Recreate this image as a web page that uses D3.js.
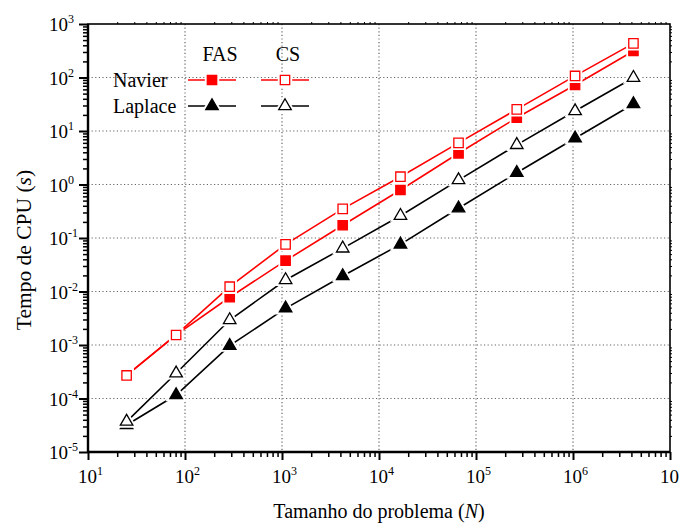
<!DOCTYPE html>
<html>
<head>
<meta charset="utf-8">
<script src="https://cdn.jsdelivr.net/npm/d3@7"></script>
<style>
  body { margin: 0; background: #fff; }
  svg text { font-family: "Liberation Serif", "Times New Roman", serif; }
</style>
</head>
<body>
<div id="chart"></div>
<script>
// problem sizes (N) and CPU times (s)
const sizes = [25, 81, 289, 1089, 4225, 16641, 66049, 263169, 1050625, 4198401]
const navierFAS = [2.7e-4, 1.54e-3, 7.8e-3, 0.0377, 0.173, 0.79, 3.83, 17.7, 72.5, 313]
const navierCS = [2.7e-4, 1.54e-3, 0.0123, 0.076, 0.35, 1.4, 6.0, 25.4, 107, 435]
const laplaceFAS = [3.2e-5, 1.16e-4, 9.7e-4, 4.85e-3, 0.0195, 0.076, 0.36, 1.66, 7.3, 32]
const laplaceCS = [3.7e-5, 2.96e-4, 2.93e-3, 0.0164, 0.064, 0.261, 1.21, 5.5, 23.6, 99]
const xDecades = [1, 2, 3, 4, 5, 6, 7]
const yDecades = [-5, -4, -3, -2, -1, 0, 1, 2, 3]

const width = 679
const height = 523
const margin = { top: 24, right: 9, bottom: 71, left: 88 }
const innerW = width - margin.left - margin.right
const innerH = height - margin.top - margin.bottom

const svg = d3.select('#chart')
  .append('svg')
  .attr('width', width)
  .attr('height', height)
  .style('font-family', '"Liberation Serif", "Times New Roman", serif')

const g = svg.append('g')
  .attr('transform', `translate(${margin.left},${margin.top})`)

const x = d3.scaleLog().domain([1e1, 1e7]).range([0, innerW])
const y = d3.scaleLog().domain([1e-5, 1e3]).range([innerH, 0])

// minor tick values
const minorTicks = (decs) => {
  const out = []
  decs.slice(0, -1).forEach(e => {
    for (let k = 2; k <= 9; k++) out.push(k * Math.pow(10, e))
  })
  return out
}
const xMinor = minorTicks(xDecades)
const yMinor = minorTicks(yDecades)
const xMajor = xDecades.map(e => Math.pow(10, e))
const yMajor = yDecades.map(e => Math.pow(10, e))

// grid
g.append('g')
  .selectAll('line')
  .data(xMajor.slice(1, -1))
  .join('line')
  .attr('x1', d => x(d)).attr('x2', d => x(d))
  .attr('y1', 0).attr('y2', innerH)
  .attr('stroke', '#666').attr('stroke-width', 1.2)
  .attr('stroke-dasharray', '1.2,2.4')

g.append('g')
  .selectAll('line')
  .data(yMajor.slice(1, -1))
  .join('line')
  .attr('x1', 0).attr('x2', innerW)
  .attr('y1', d => y(d)).attr('y2', d => y(d))
  .attr('stroke', '#666').attr('stroke-width', 1.2)
  .attr('stroke-dasharray', '1.2,2.4')

// axes (ticks only, labels drawn separately)
const styleAxis = (sel, w) => {
  sel.select('.domain').remove()
  sel.selectAll('.tick line').attr('stroke', '#000').attr('stroke-width', w)
  sel.selectAll('.tick text').remove()
}

g.append('g').attr('transform', `translate(0,${innerH})`)
  .call(d3.axisBottom(x).tickValues(xMinor).tickSize(5).tickFormat(''))
  .call(s => styleAxis(s, 1.5))
g.append('g').attr('transform', `translate(0,${innerH})`)
  .call(d3.axisBottom(x).tickValues(xMajor).tickSize(8).tickFormat(''))
  .call(s => styleAxis(s, 2))
g.append('g')
  .call(d3.axisLeft(y).tickValues(yMinor).tickSize(5).tickFormat(''))
  .call(s => styleAxis(s, 1.5))
g.append('g')
  .call(d3.axisLeft(y).tickValues(yMajor).tickSize(9).tickFormat(''))
  .call(s => styleAxis(s, 2))
g.append('g')
  .call(d3.axisTop(x).tickValues(xMinor).tickSize(2).tickFormat(''))
  .call(s => styleAxis(s, 1))
g.append('g').attr('transform', `translate(${innerW},0)`)
  .call(d3.axisRight(y).tickValues(yMinor).tickSize(2).tickFormat(''))
  .call(s => styleAxis(s, 1))

// frame
g.append('rect')
  .attr('x', 0).attr('y', 0)
  .attr('width', innerW).attr('height', innerH)
  .attr('fill', 'none').attr('stroke', '#000').attr('stroke-width', 1.6)
g.append('line').attr('x1', 0).attr('x2', 0).attr('y1', 0).attr('y2', innerH)
  .attr('stroke', '#000').attr('stroke-width', 2.4)
g.append('line').attr('x1', 0).attr('x2', innerW).attr('y1', innerH).attr('y2', innerH)
  .attr('stroke', '#000').attr('stroke-width', 2.4)

// tick labels
const xLab = g.append('g')
  .selectAll('text')
  .data(xDecades)
  .join('text')
  .attr('x', d => x(Math.pow(10, d)) - 10)
  .attr('y', innerH + 31)
  .attr('font-size', 19)
xLab.append('tspan').text('10')
xLab.append('tspan').attr('dy', -8).attr('font-size', 12).text(d => d)

const yLab = g.append('g')
  .selectAll('text')
  .data(yDecades)
  .join('text')
  .attr('x', -39)
  .attr('y', d => y(Math.pow(10, d)) + 7)
  .attr('font-size', 19)
yLab.append('tspan').text('10')
yLab.append('tspan').attr('dy', -8).attr('font-size', 12).text(d => d)

// axis titles
const xTitle = svg.append('text')
  .attr('x', margin.left + innerW / 2)
  .attr('y', 518)
  .attr('text-anchor', 'middle')
  .attr('font-size', 20)
xTitle.append('tspan').text('Tamanho do problema (')
xTitle.append('tspan').attr('font-style', 'italic').text('N')
xTitle.append('tspan').text(')')

const yTitle = svg.append('text')
  .attr('transform', 'translate(31,250) rotate(-90)')
  .attr('text-anchor', 'middle')
  .attr('font-size', 21.5)
yTitle.append('tspan').text('Tempo de CPU (')
yTitle.append('tspan').attr('font-style', 'italic').text('s')
yTitle.append('tspan').text(')')

// series
const series = [
  { values: laplaceFAS, color: '#000', shape: d3.symbolTriangle, filled: true, size: 68 },
  { values: laplaceCS, color: '#000', shape: d3.symbolTriangle, filled: false, size: 68 },
  { values: navierFAS, color: '#ff0000', shape: d3.symbolSquare, filled: true, size: 88 },
  { values: navierCS, color: '#ff0000', shape: d3.symbolSquare, filled: false, size: 88 }
]

const line = d3.line()
  .x(d => x(d[0]))
  .y(d => y(d[1]))

series.forEach(s => {
  const pts = sizes.map((n, i) => [n, s.values[i]])
  g.append('path')
    .datum(pts)
    .attr('d', line)
    .attr('fill', 'none')
    .attr('stroke', s.color)
    .attr('stroke-width', 1.6)
})

series.forEach(s => {
  const pts = sizes.map((n, i) => [n, s.values[i]])
  const sym = d3.symbol().type(s.shape).size(s.size)
  // white halo so lines stop short of markers
  g.append('g').selectAll('path')
    .data(pts)
    .join('path')
    .attr('transform', d => `translate(${x(d[0])},${y(d[1])})`)
    .attr('d', sym)
    .attr('fill', '#fff').attr('stroke', '#fff').attr('stroke-width', 5)
  g.append('g').selectAll('path')
    .data(pts)
    .join('path')
    .attr('transform', d => `translate(${x(d[0])},${y(d[1])})`)
    .attr('d', sym)
    .attr('fill', s.filled ? s.color : '#fff')
    .attr('stroke', s.color).attr('stroke-width', 1.3)
})

// legend
const legend = svg.append('g').attr('font-size', 20)
legend.append('text').attr('x', 220).attr('y', 61).attr('text-anchor', 'middle').text('FAS')
legend.append('text').attr('x', 288).attr('y', 61).attr('text-anchor', 'middle').text('CS')
legend.append('text').attr('x', 113).attr('y', 87).text('Navier')
legend.append('text').attr('x', 113).attr('y', 113).text('Laplace')

const legendRows = [
  { y: 80, items: [series[2], series[3]] },
  { y: 106, items: [series[0], series[1]] }
]
const legendCols = [212, 285]
legendRows.forEach(r => {
  r.items.forEach((s, i) => {
    const cx = legendCols[i]
    legend.append('line')
      .attr('x1', cx - 24).attr('x2', cx + 24)
      .attr('y1', r.y).attr('y2', r.y)
      .attr('stroke', s.color).attr('stroke-width', 1.6)
    const sym = d3.symbol().type(s.shape).size(s.size)
    legend.append('path')
      .attr('transform', `translate(${cx},${r.y})`)
      .attr('d', sym)
      .attr('fill', '#fff').attr('stroke', '#fff').attr('stroke-width', 5)
    legend.append('path')
      .attr('transform', `translate(${cx},${r.y})`)
      .attr('d', sym)
      .attr('fill', s.filled ? s.color : '#fff')
      .attr('stroke', s.color).attr('stroke-width', 1.3)
  })
})
</script>
</body>
</html>
